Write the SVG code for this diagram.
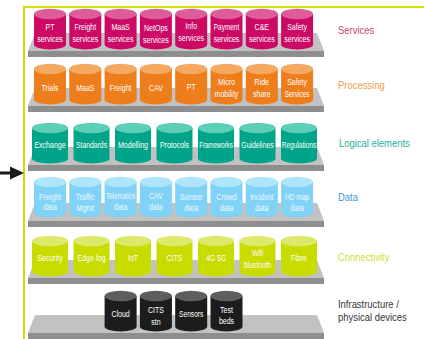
<svg xmlns="http://www.w3.org/2000/svg" width="424" height="339" viewBox="0 0 424 339">
<style>
.shelf{fill:#c2c2c2}
.band{fill:#8e8e8e}
.ct{font-family:"Liberation Sans",Arial,sans-serif;font-size:9px;fill:#fff;text-anchor:middle}
.lbl{font-family:"Liberation Sans",Arial,sans-serif;font-size:10.5px}
.sv .b{fill:#cc0a66}.sv .t{fill:#de5c9a}
.pr .b{fill:#ee7d1c}.pr .t{fill:#f5a860}
.lg .b{fill:#00a589}.lg .t{fill:#5ccfb8}
.dt .b{fill:#80d3f7}.dt .t{fill:#aee5fb}.dt .ct{fill:#eef9ff}
.cn .b{fill:#c9dc00}.cn .t{fill:#dce96a}
.in .b{fill:#1c1c1c}.in .t{fill:#5e5e5e}
</style>
<defs>
<path id="c32" d="M-16,5 L-16,35.5 A16,5 0 0 0 16,35.5 L16,5 Z"/>
<ellipse id="e32" cx="0" cy="5" rx="16" ry="5.2"/>
<path id="c36" d="M-18,5 L-18,35.5 A18,5 0 0 0 18,35.5 L18,5 Z"/>
<ellipse id="e36" cx="0" cy="5" rx="18" ry="5.2"/>
</defs>

<path d="M24,339 L24,7 L424,7" fill="none" stroke="#d0e000" stroke-width="2"/>

<!-- shelves -->
<g id="shelves">
<polygon class="shelf" points="35,33 317,33 324,51 28,51"/><rect class="band" x="28" y="51" width="296" height="6"/>
<polygon class="shelf" points="35,88 317,88 324,106 28,106"/><rect class="band" x="28" y="106" width="296" height="6"/>
<polygon class="shelf" points="35,147 317,147 324,165 28,165"/><rect class="band" x="28" y="165" width="296" height="6"/>
<polygon class="shelf" points="35,203 317,203 324,221 28,221"/><rect class="band" x="28" y="221" width="296" height="6"/>
<polygon class="shelf" points="35,260 317,260 324,278 28,278"/><rect class="band" x="28" y="278" width="296" height="6"/>
<polygon class="shelf" points="35,315 317,315 324,333 28,333"/><rect class="band" x="28" y="333" width="296" height="6"/>
</g>

<!-- Services row -->
<g id="services" class="sv">
<g id="sv1" transform="translate(50,9)"><use class="b" href="#c32"/><use class="t" href="#e32"/><text class="ct" transform="translate(0,21) scale(0.78,1)">PT</text><text class="ct" transform="translate(0,32.5) scale(0.78,1)">services</text></g>
<g id="sv2" transform="translate(85.3,9)"><use class="b" href="#c32"/><use class="t" href="#e32"/><text class="ct" transform="translate(0,21) scale(0.78,1)">Freight</text><text class="ct" transform="translate(0,32.5) scale(0.78,1)">services</text></g>
<g id="sv3" transform="translate(120.6,9)"><use class="b" href="#c32"/><use class="t" href="#e32"/><text class="ct" transform="translate(0,21) scale(0.78,1)">MaaS</text><text class="ct" transform="translate(0,32.5) scale(0.78,1)">services</text></g>
<g id="sv4" transform="translate(155.9,9)"><use class="b" href="#c32"/><use class="t" href="#e32"/><text class="ct" transform="translate(0,21.5) scale(0.78,1)">NetOps</text><text class="ct" transform="translate(0,33.5) scale(0.78,1)">services</text></g>
<g id="sv5" transform="translate(191.2,9)"><use class="b" href="#c32"/><use class="t" href="#e32"/><text class="ct" transform="translate(0,20) scale(0.78,1)">Info</text><text class="ct" transform="translate(0,32) scale(0.78,1)">services</text></g>
<g id="sv6" transform="translate(226.5,9)"><use class="b" href="#c32"/><use class="t" href="#e32"/><text class="ct" transform="translate(0,21) scale(0.72,1)">Payment</text><text class="ct" transform="translate(0,32.5) scale(0.78,1)">services</text></g>
<g id="sv7" transform="translate(261.8,9)"><use class="b" href="#c32"/><use class="t" href="#e32"/><text class="ct" transform="translate(0,21) scale(0.78,1)">C&amp;E</text><text class="ct" transform="translate(0,32.5) scale(0.78,1)">services</text></g>
<g id="sv8" transform="translate(297.1,9)"><use class="b" href="#c32"/><use class="t" href="#e32"/><text class="ct" transform="translate(0,21) scale(0.78,1)">Safety</text><text class="ct" transform="translate(0,32.5) scale(0.78,1)">services</text></g>
</g>

<!-- Processing row -->
<g id="processing" class="pr">
<g id="pr1" transform="translate(50,64)"><use class="b" href="#c32"/><use class="t" href="#e32"/><text class="ct" transform="translate(0,26.5) scale(0.78,1)">Trials</text></g>
<g id="pr2" transform="translate(85.3,64)"><use class="b" href="#c32"/><use class="t" href="#e32"/><text class="ct" transform="translate(0,26.5) scale(0.78,1)">MaaS</text></g>
<g id="pr3" transform="translate(120.6,64)"><use class="b" href="#c32"/><use class="t" href="#e32"/><text class="ct" transform="translate(0,27) scale(0.78,1)">Freight</text></g>
<g id="pr4" transform="translate(155.9,64)"><use class="b" href="#c32"/><use class="t" href="#e32"/><text class="ct" transform="translate(0,27) scale(0.78,1)">CAV</text></g>
<g id="pr5" transform="translate(191.2,64)"><use class="b" href="#c32"/><use class="t" href="#e32"/><text class="ct" transform="translate(0,25.5) scale(0.78,1)">PT</text></g>
<g id="pr6" transform="translate(226.5,64)"><use class="b" href="#c32"/><use class="t" href="#e32"/><text class="ct" transform="translate(0,21) scale(0.78,1)">Micro</text><text class="ct" transform="translate(0,32.5) scale(0.78,1)">mobility</text></g>
<g id="pr7" transform="translate(261.8,64)"><use class="b" href="#c32"/><use class="t" href="#e32"/><text class="ct" transform="translate(0,21) scale(0.78,1)">Ride</text><text class="ct" transform="translate(0,32.5) scale(0.78,1)">share</text></g>
<g id="pr8" transform="translate(297.1,64)"><use class="b" href="#c32"/><use class="t" href="#e32"/><text class="ct" transform="translate(0,21) scale(0.78,1)">Safety</text><text class="ct" transform="translate(0,32.5) scale(0.72,1)">Services</text></g>
</g>

<!-- Logical elements row -->
<g id="logical" class="lg">
<g id="lg1" transform="translate(50,123)"><use class="b" href="#c36"/><use class="t" href="#e36"/><text class="ct" transform="translate(0,24.5) scale(0.78,1)">Exchange</text></g>
<g id="lg2" transform="translate(91.5,123)"><use class="b" href="#c36"/><use class="t" href="#e36"/><text class="ct" transform="translate(0,24.5) scale(0.76,1)">Standards</text></g>
<g id="lg3" transform="translate(133,123)"><use class="b" href="#c36"/><use class="t" href="#e36"/><text class="ct" transform="translate(0,24.5) scale(0.78,1)">Modelling</text></g>
<g id="lg4" transform="translate(174.5,123)"><use class="b" href="#c36"/><use class="t" href="#e36"/><text class="ct" transform="translate(0,24.5) scale(0.78,1)">Protocols</text></g>
<g id="lg5" transform="translate(216,123)"><use class="b" href="#c36"/><use class="t" href="#e36"/><text class="ct" transform="translate(0,24.5) scale(0.68,1)">Frameworks</text></g>
<g id="lg6" transform="translate(257.5,123)"><use class="b" href="#c36"/><use class="t" href="#e36"/><text class="ct" transform="translate(0,25) scale(0.76,1)">Guidelines</text></g>
<g id="lg7" transform="translate(299,123)"><use class="b" href="#c36"/><use class="t" href="#e36"/><text class="ct" transform="translate(0,25) scale(0.73,1)">Regulations</text></g>
</g>

<!-- Data row -->
<g id="data" class="dt">
<g id="dt1" transform="translate(50,177)"><use class="b" href="#c32"/><use class="t" href="#e32"/><text class="ct" transform="translate(0,23) scale(0.78,1)">Freight</text><text class="ct" transform="translate(0,33) scale(0.78,1)">data</text></g>
<g id="dt2" transform="translate(85.3,177)"><use class="b" href="#c32"/><use class="t" href="#e32"/><text class="ct" transform="translate(0,23) scale(0.78,1)">Traffic</text><text class="ct" transform="translate(0,33.5) scale(0.78,1)">Mgmt</text></g>
<g id="dt3" transform="translate(120.6,177)"><use class="b" href="#c32"/><use class="t" href="#e32"/><text class="ct" transform="translate(0,22) scale(0.68,1)">Telematics</text><text class="ct" transform="translate(0,32.5) scale(0.78,1)">data</text></g>
<g id="dt4" transform="translate(155.9,177)"><use class="b" href="#c32"/><use class="t" href="#e32"/><text class="ct" transform="translate(0,22) scale(0.78,1)">CAV</text><text class="ct" transform="translate(0,33) scale(0.78,1)">data</text></g>
<g id="dt5" transform="translate(191.2,177)"><use class="b" href="#c32"/><use class="t" href="#e32"/><text class="ct" transform="translate(0,23) scale(0.78,1)">Sensor</text><text class="ct" transform="translate(0,33.5) scale(0.78,1)">data</text></g>
<g id="dt6" transform="translate(226.5,177)"><use class="b" href="#c32"/><use class="t" href="#e32"/><text class="ct" transform="translate(0,23) scale(0.78,1)">Crowd</text><text class="ct" transform="translate(0,33.5) scale(0.78,1)">data</text></g>
<g id="dt7" transform="translate(261.8,177)"><use class="b" href="#c32"/><use class="t" href="#e32"/><text class="ct" transform="translate(0,23) scale(0.74,1)">Incident</text><text class="ct" transform="translate(0,33.5) scale(0.78,1)">data</text></g>
<g id="dt8" transform="translate(297.1,177)"><use class="b" href="#c32"/><use class="t" href="#e32"/><text class="ct" transform="translate(0,23) scale(0.74,1)">HD map</text><text class="ct" transform="translate(0,33.5) scale(0.78,1)">data</text></g>
</g>

<!-- Connectivity row -->
<g id="connectivity" class="cn">
<g id="cn1" transform="translate(50,236)"><use class="b" href="#c36"/><use class="t" href="#e36"/><text class="ct" transform="translate(0,25) scale(0.78,1)">Security</text></g>
<g id="cn2" transform="translate(91.5,236)"><use class="b" href="#c36"/><use class="t" href="#e36"/><text class="ct" transform="translate(0,25) scale(0.78,1)">Edge fog</text></g>
<g id="cn3" transform="translate(133,236)"><use class="b" href="#c36"/><use class="t" href="#e36"/><text class="ct" transform="translate(0,25) scale(0.78,1)">IoT</text></g>
<g id="cn4" transform="translate(174.5,236)"><use class="b" href="#c36"/><use class="t" href="#e36"/><text class="ct" transform="translate(0,25) scale(0.78,1)">CITS</text></g>
<g id="cn5" transform="translate(216,236)"><use class="b" href="#c36"/><use class="t" href="#e36"/><text class="ct" transform="translate(0,25) scale(0.78,1)">4G 5G</text></g>
<g id="cn6" transform="translate(257.5,236)"><use class="b" href="#c36"/><use class="t" href="#e36"/><text class="ct" transform="translate(0,20) scale(0.78,1)">Wifi</text><text class="ct" transform="translate(0,31.5) scale(0.74,1)">bluetooth</text></g>
<g id="cn7" transform="translate(299,236)"><use class="b" href="#c36"/><use class="t" href="#e36"/><text class="ct" transform="translate(0,25) scale(0.78,1)">Fibre</text></g>
</g>

<!-- Infrastructure row -->
<g id="infrastructure" class="in">
<g id="in1" transform="translate(120.6,291)"><use class="b" href="#c32"/><use class="t" href="#e32"/><text class="ct" transform="translate(0,26) scale(0.78,1)">Cloud</text></g>
<g id="in2" transform="translate(155.9,291)"><use class="b" href="#c32"/><use class="t" href="#e32"/><text class="ct" transform="translate(0,22) scale(0.78,1)">CITS</text><text class="ct" transform="translate(0,34) scale(0.78,1)">stn</text></g>
<g id="in3" transform="translate(191.2,291)"><use class="b" href="#c32"/><use class="t" href="#e32"/><text class="ct" transform="translate(0,26) scale(0.74,1)">Sensors</text></g>
<g id="in4" transform="translate(226.5,291)"><use class="b" href="#c32"/><use class="t" href="#e32"/><text class="ct" transform="translate(0,22) scale(0.78,1)">Test</text><text class="ct" transform="translate(0,33) scale(0.78,1)">beds</text></g>
</g>

<!-- Layer labels -->
<g id="labels">
<text class="lbl" fill="#d23c7c" transform="translate(338,34) scale(0.9,1)">Services</text>
<text class="lbl" fill="#f29a48" transform="translate(338,89) scale(0.9,1)">Processing</text>
<text class="lbl" fill="#22b29c" transform="translate(339,147) scale(0.9,1)">Logical elements</text>
<text class="lbl" fill="#3a9ad2" transform="translate(338,201) scale(0.9,1)">Data</text>
<text class="lbl" fill="#cfe030" transform="translate(338,261) scale(0.9,1)">Connectivity</text>
<text class="lbl" fill="#333333" transform="translate(338,308) scale(0.9,1)">Infrastructure /</text>
<text class="lbl" fill="#333333" transform="translate(338,321) scale(0.9,1)">physical devices</text>
</g>

<!-- Connectors -->
<g id="connectors">
<rect x="0" y="171.5" width="13" height="3" fill="#1a1a1a"/>
<polygon points="10,166.5 24,173 10,179.5" fill="#1a1a1a"/>
</g>
</svg>
